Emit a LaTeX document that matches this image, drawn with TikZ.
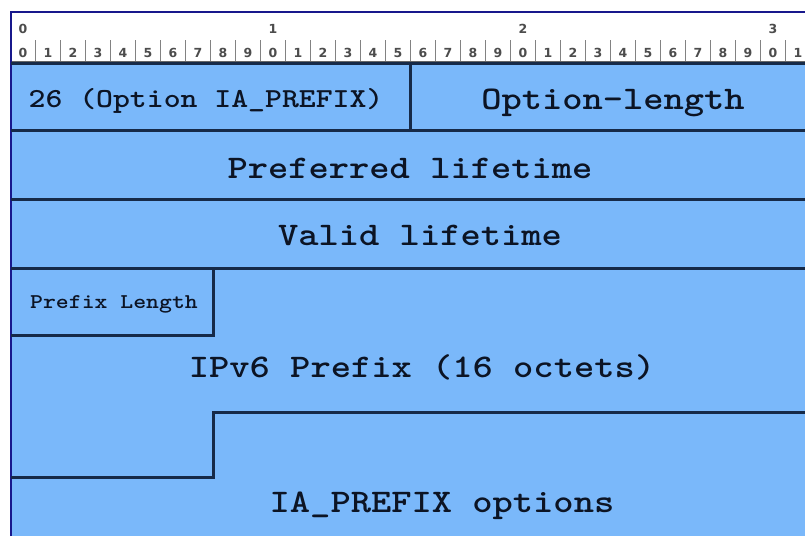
\documentclass[tikz,border=0pt]{standalone}
\usepackage{fontspec}
\newfontfamily\rulerfont{DejaVu Sans}
\newfontfamily\courb{lmmonolt10-bold}[Extension=.otf, FakeStretch=1.17]
\definecolor{fieldblue}{RGB}{122,184,250}
\definecolor{edgenavy}{RGB}{22,42,72}
\definecolor{framenavy}{RGB}{24,24,140}
\definecolor{inkc}{RGB}{12,20,36}
\definecolor{tickgray}{RGB}{130,130,130}
\begin{document}
\begin{tikzpicture}[x=1pt,y=-1pt,
  fieldline/.style={draw=edgenavy,line width=3pt},
  lbl/.style={text=inkc, inner sep=0pt, anchor=base},
  bigtxt/.style={lbl, font=\courb\fontsize{33}{33}\selectfont},
  midtxt/.style={lbl, font=\courb\fontsize{27.5}{28}\selectfont},
  smalltxt/.style={lbl, font=\courb\fontsize{21}{21}\selectfont},
  digit/.style={text=black!70, inner sep=0pt, anchor=base, font=\rulerfont\bfseries\fontsize{12.5}{12.5}\selectfont},
  tick/.style={draw=tickgray, line width=1pt}]
\useasboundingbox (0,0) rectangle (805,536);
\fill[white] (0,0) rectangle (805,536);
% field area
\fill[fieldblue] (11,63) rectangle (805,536);
% ruler
\foreach \i in {0,...,30} \draw[tick] (35.5+25*\i,40) -- (35.5+25*\i,62);
\draw[draw=black!60, line width=1.2pt] (11,61.5) -- (805,61.5);
\foreach \i [evaluate=\i as \d using {int(mod(\i,10))}] in {0,...,31}
  \node[digit] (b\i) at (23+25*\i,57) {\d};
\foreach \i/\t in {0/0,10/1,20/2,30/3}
  \node[digit] (t\i) at (23+25*\i,33.5) {\t};
% frame
\draw[framenavy, line width=1.8pt] (11,536) -- (11,12) -- (805,12);
% field lines
\draw[fieldline] (11,63.5) -- (805,63.5);
\draw[fieldline] (410,63) -- (410,130);
\draw[fieldline] (11,130) -- (805,130);
\draw[fieldline] (11,199) -- (805,199);
\draw[fieldline] (11,268) -- (805,268);
\draw[fieldline] (213,268) -- (213,335) -- (11,335);
\draw[fieldline] (805,412) -- (213,412) -- (213,477) -- (11,477);
% labels
\node[midtxt] (code) at (206,107) {26 (Option IA\_PREFIX)};
\node[bigtxt] (olen) at (613,109) {Option-length};
\node[bigtxt] (pref) at (410,178) {Preferred lifetime};
\node[bigtxt] (valid) at (420,245) {Valid lifetime};
\node[smalltxt] (plen) at (114,308) {Prefix Length};
\node[bigtxt] (ipv6) at (422,377) {IPv6 Prefix (16 octets)};
\node[bigtxt] (opts) at (442,512) {IA\_PREFIX options};
\end{tikzpicture}
\end{document}
